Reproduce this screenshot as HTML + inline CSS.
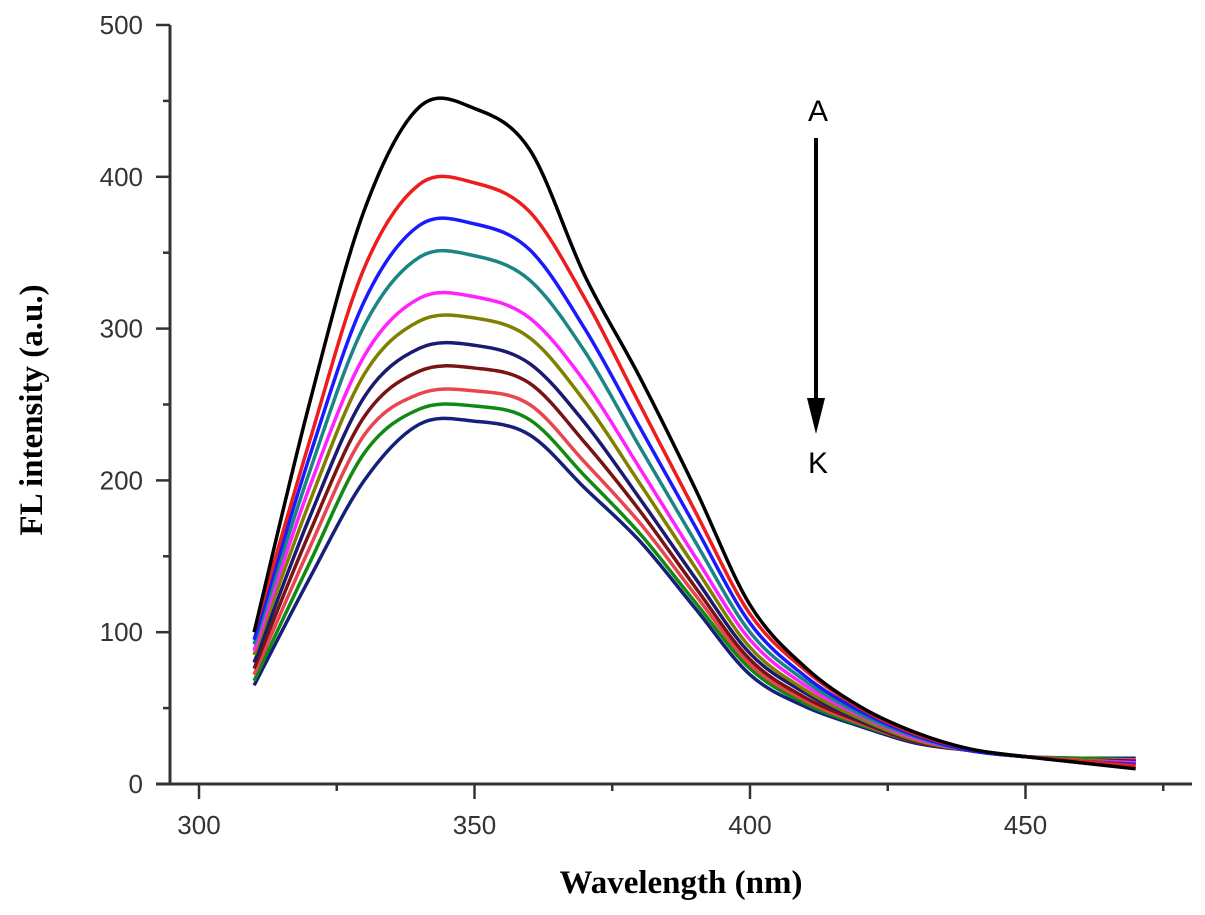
<!DOCTYPE html>
<html><head><meta charset="utf-8"><style>
body{margin:0;background:#fff;}
svg{display:block;}
</style></head><body>
<svg id="chart" width="1205" height="915" viewBox="0 0 1205 915" xmlns="http://www.w3.org/2000/svg">
<g id="axes"></g>
<g id="series"></g>
<text transform="translate(42,410) rotate(-90)" text-anchor="middle" font-family="Liberation Serif, serif" font-weight="bold" font-size="33">FL intensity (a.u.)</text>
<text x="681" y="893" text-anchor="middle" font-family="Liberation Serif, serif" font-weight="bold" font-size="33">Wavelength (nm)</text>
<g>
<line x1="816" y1="138" x2="816" y2="400" stroke="#000" stroke-width="4"/>
<polygon points="807,398 825,398 816,434" fill="#000"/>
</g>
<text x="818" y="121" text-anchor="middle" font-family="Liberation Sans, sans-serif" font-size="30">A</text>
<text x="818" y="473" text-anchor="middle" font-family="Liberation Sans, sans-serif" font-size="30">K</text>
</svg>
<script>
const wavelengths=[310,320,330,340,350,360,370,380,390,400,410,420,430,440,450,460,470];
const seriesA=[100,250,378,446,445,418,335,268,195,118,77,51,34,23,18,14,10];
const seriesB=[100,225,340,395,396,377,320,250,180,112,75,50,33,23,18,15,12];
const seriesC=[95,215,318,368,369,352,300,235,170,106,71,48,32,22,18,15,13];
const seriesD=[92,205,302,347,348,332,285,222,160,100,68,46,31,22,18,15,13];
const seriesE=[88,195,282,320,321,307,265,208,150,95,65,45,30,22,18,15,14];
const seriesF=[85,185,270,305,307,294,252,198,143,90,62,43,29,22,18,16,14];
const seriesG=[80,175,255,287,289,277,238,188,136,86,60,42,29,22,18,16,15];
const seriesH=[76,165,242,272,274,264,225,180,130,82,57,41,28,22,18,16,15];
const seriesI=[72,155,230,257,259,250,212,172,125,79,55,40,28,22,18,16,16];
const seriesJ=[68,145,218,247,249,240,203,165,120,76,53,39,28,22,18,17,16];
const seriesK=[65,135,200,237,239,230,195,160,116,72,51,38,27,22,18,17,17];
const seriesNames=["A","B","C","D","E","F","G","H","I","J","K"];
const xTicks=[300,350,400,450];
const yTicks=[0,100,200,300,400,500];

const allSeries=[seriesA,seriesB,seriesC,seriesD,seriesE,seriesF,seriesG,seriesH,seriesI,seriesJ,seriesK];
const colors=["#000000","#ee1c1c","#1a1aff","#1a8585","#ff22ff","#808000","#1a1a70","#7a1414","#e8454f","#108a10","#14207a"];
const NS="http://www.w3.org/2000/svg";
function xs(v){return 199+(v-300)*5.51;}
function ys(v){return 784-v*1.518;}
function mk(tag,attrs,parent){const e=document.createElementNS(NS,tag);for(const k in attrs)e.setAttribute(k,attrs[k]);parent.appendChild(e);return e;}
const ax=document.getElementById('axes');
let l=mk('line',{x1:170,y1:ys(500),x2:170,y2:784,stroke:'#333','stroke-width':3},ax);


l=mk('line',{x1:156,y1:784,x2:1192,y2:784,stroke:'#333','stroke-width':3},ax);


yTicks.forEach((t,i)=>{
  mk('line',{x1:156,y1:ys(t),x2:170,y2:ys(t),stroke:'#333','stroke-width':2.5},ax);
  if(i<yTicks.length-1){mk('line',{x1:163,y1:ys(t+50),x2:170,y2:ys(t+50),stroke:'#333','stroke-width':2.5},ax);}
  const tx=mk('text',{x:143,y:ys(t)+9,'text-anchor':'end','font-family':'Liberation Sans, sans-serif','font-size':26,fill:'#333'},ax);
  tx.textContent=t;
  
  
});
xTicks.forEach(t=>{
  mk('line',{x1:xs(t),y1:784,x2:xs(t),y2:799,stroke:'#333','stroke-width':2.5},ax);
  mk('line',{x1:xs(t+25),y1:784,x2:xs(t+25),y2:791,stroke:'#333','stroke-width':2.5},ax);
  const tx=mk('text',{x:xs(t),y:834,'text-anchor':'middle','font-family':'Liberation Sans, sans-serif','font-size':26,fill:'#333'},ax);
  tx.textContent=t;
  
  
});
function pathFor(vals){
  const p=wavelengths.map((w,i)=>[xs(w),ys(vals[i])]);
  let d='M'+p[0][0]+','+p[0][1];
  for(let i=0;i<p.length-1;i++){
    const p0=p[Math.max(0,i-1)],p1=p[i],p2=p[i+1],p3=p[Math.min(p.length-1,i+2)];
    const c1=[p1[0]+(p2[0]-p0[0])/6,p1[1]+(p2[1]-p0[1])/6];
    const c2=[p2[0]-(p3[0]-p1[0])/6,p2[1]-(p3[1]-p1[1])/6];
    d+=' C'+c1[0]+','+c1[1]+' '+c2[0]+','+c2[1]+' '+p2[0]+','+p2[1];
  }
  return d;
}
const sg=document.getElementById('series');
for(let i=allSeries.length-1;i>=0;i--){
  const pa=mk('path',{d:pathFor(allSeries[i]),fill:'none',stroke:colors[i],'stroke-width':3.5,'stroke-linejoin':'round'},sg);
  
  
}
</script>
</body></html>
